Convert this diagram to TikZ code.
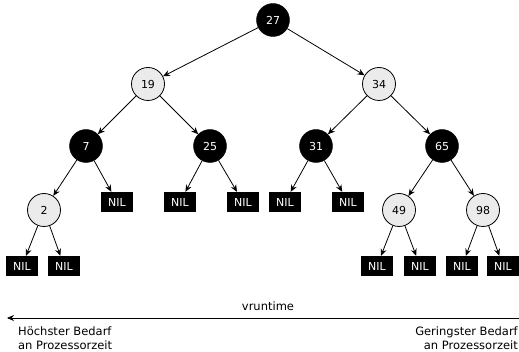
\documentclass[tikz,border=0pt]{standalone}
\usepackage{fontspec}
\setmainfont{DejaVu Sans}
\usetikzlibrary{arrows.meta}
\begin{document}
\begin{tikzpicture}[x=1pt,y=-1pt,
  red/.style={circle,draw=black,line width=0.8pt,fill=black!8,minimum size=33pt,inner sep=0pt,font=\fontsize{11}{12}\selectfont},
  blk/.style={circle,draw=black,fill=black,text=white,minimum size=33pt,inner sep=0pt,font=\fontsize{11}{12}\selectfont},
  nil/.style={rectangle,fill=black,text=white,minimum width=32pt,minimum height=20pt,inner sep=0pt,font=\fontsize{11}{12}\selectfont},
  edge/.style={draw=black,line width=0.8pt,-{Stealth[length=7pt,width=6pt]}},
  lbl/.style={font=\fontsize{11.5}{14}\selectfont,inner sep=0pt}]
\useasboundingbox (0,0) rectangle (519,352);
\node[blk] (n27) at (273,20) {27};
\node[red] (n19) at (148,84) {19};
\node[red] (n34) at (379,84) {34};
\node[blk] (n7) at (86,146) {7};
\node[blk] (n25) at (210,146) {25};
\node[blk] (n31) at (316,146) {31};
\node[blk] (n65) at (442,146) {65};
\node[red] (n2) at (44,210) {2};
\node[nil] (a1) at (117,202) {NIL};
\node[nil] (a2) at (180,202) {NIL};
\node[nil] (a3) at (243,202) {NIL};
\node[nil] (a4) at (285,202) {NIL};
\node[nil] (a5) at (348,202) {NIL};
\node[red] (n49) at (399,210) {49};
\node[red] (n98) at (483,210) {98};
\node[nil] (b1) at (22,266) {NIL};
\node[nil] (b2) at (64,266) {NIL};
\node[nil] (b3) at (377,266) {NIL};
\node[nil] (b4) at (420,266) {NIL};
\node[nil] (b5) at (462,266) {NIL};
\node[nil] (b6) at (503,266) {NIL};
\draw[edge] (n27) -- (n19);
\draw[edge] (n27) -- (n34);
\draw[edge] (n19) -- (n7);
\draw[edge] (n19) -- (n25);
\draw[edge] (n34) -- (n31);
\draw[edge] (n34) -- (n65);
\draw[edge] (n7) -- (n2);
\draw[edge] (n7) -- (a1);
\draw[edge] (n25) -- (a2);
\draw[edge] (n25) -- (a3);
\draw[edge] (n31) -- (a4);
\draw[edge] (n31) -- (a5);
\draw[edge] (n65) -- (n49);
\draw[edge] (n65) -- (n98);
\draw[edge] (n2) -- (b1);
\draw[edge] (n2) -- (b2);
\draw[edge] (n49) -- (b3);
\draw[edge] (n49) -- (b4);
\draw[edge] (n98) -- (b5);
\draw[edge] (n98) -- (b6);
\coordinate (arrR) at (519,318);
\coordinate (arrL) at (7,318);
\draw[edge] (arrR) -- (arrL);
\node[lbl] (vr) at (268,306) {vruntime};
\node[lbl,anchor=north west,align=left] (hl) at (18,327) {Höchster Bedarf\\an Prozessorzeit};
\node[lbl,anchor=north east,align=right] (hr) at (518,327) {Geringster Bedarf\\an Prozessorzeit};
\end{tikzpicture}
\end{document}
